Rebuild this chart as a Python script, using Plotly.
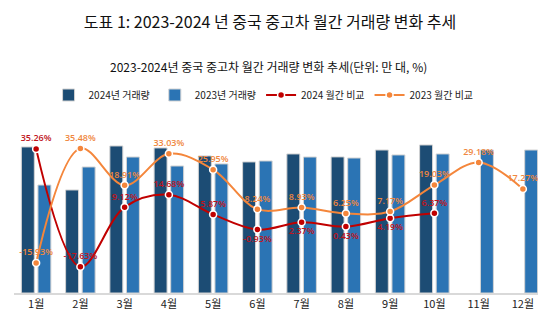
import plotly.graph_objects as go

months = ['1월', '2월', '3월', '4월', '5월', '6월', '7월', '8월', '9월', '10월', '11월', '12월']

# 거래량 (만 대)
vol_2024 = [162.6, 114.7, 163.7, 161.5, 152.6, 145.9, 154.8, 151.5, 159.2, 164.8, None, None]
vol_2023 = [120.2, 140.3, 151.4, 141.4, 143.7, 147.0, 151.4, 150.3, 153.7, 154.8, 159.2, 159.2]

# 월간 비교 (%)
yoy_2024 = [35.26, -17.63, 9.12, 14.68, 5.87, -0.93, 2.37, 0.43, 4.19, 6.37, None, None]
yoy_2023 = [-15.93, 35.48, 18.91, 33.03, 25.95, 8.24, 8.93, 6.25, 7.17, 19.03, 29.18, 17.27]

pos_2024 = ['top center'] * 5 + ['bottom center'] * 4 + ['top center'] * 3

def pct(vals):
    return ['' if v is None else f'{v:.2f}%' for v in vals]

font_kr = 'Noto Sans CJK KR'

fig = go.Figure()

fig.add_trace(go.Bar(x=months, y=vol_2024, name='2024년 거래량',
                     marker=dict(color='#1C4C74', line=dict(color='#D3D3D3', width=1))))
fig.add_trace(go.Bar(x=months, y=vol_2023, name='2023년 거래량',
                     marker=dict(color='#2B74B4', line=dict(color='#D3D3D3', width=1))))

fig.add_trace(go.Scatter(x=months, y=yoy_2024, name='2024 월간 비교', yaxis='y2',
                         mode='lines+markers+text', text=pct(yoy_2024), textposition=pos_2024,
                         textfont=dict(color='#C0141C', size=9, family='Open Sans', weight=600),
                         line=dict(color='#C00000', width=2, shape='spline', smoothing=1.0),
                         marker=dict(size=7, color='#C00000', line=dict(color='white', width=1.5))))
fig.add_trace(go.Scatter(x=months, y=yoy_2023, name='2023 월간 비교', yaxis='y2',
                         mode='lines+markers+text', text=pct(yoy_2023), textposition='top center',
                         textfont=dict(color='#F0873E', size=9, family='Open Sans', weight=600),
                         line=dict(color='#F4863B', width=2, shape='spline', smoothing=1.0),
                         marker=dict(size=7, color='#F4863B', line=dict(color='white', width=1.5))))

fig.update_layout(
    width=546, height=314,
    margin=dict(l=6, r=9, t=105, b=29, autoexpand=False),
    plot_bgcolor='white', paper_bgcolor='white',
    font=dict(family=font_kr, color='#222222'),
    barmode='group', bargap=0.25, bargroupgap=0.22,
    title=dict(text='도표 1: 2023-2024 년 중국 중고차 월간 거래량 변화 추세',
               x=0.48, xanchor='center', y=0.955, yanchor='middle',
               font=dict(size=16, color='#111111', family=font_kr, weight=400)),
    legend=dict(orientation='h', x=0.47, xanchor='center', y=1.1, yanchor='middle',
                font=dict(size=10, color='#222222', family=font_kr),
                itemwidth=30, tracegroupgap=0),
    xaxis=dict(range=[-0.5, 11.5], showgrid=False, showline=True, linecolor='#D9D9D9', linewidth=1.5,
               tickfont=dict(size=11, color='#222222', family=font_kr), ticks='', ticklen=6),
    yaxis=dict(range=[0, 200.4], visible=False),
    yaxis2=dict(range=[-29.37, 51.35], overlaying='y', visible=False),
    showlegend=True,
)

fig.add_annotation(text='2023-2024년 중국 중고차 월간 거래량 변화 추세(단위: 만 대, %)',
                   xref='paper', yref='paper', x=0.48, y=1.26, xanchor='center', yanchor='middle',
                   showarrow=False, font=dict(size=12, color='#111111', family=font_kr, weight=400))

fig.write_html('out.html')
